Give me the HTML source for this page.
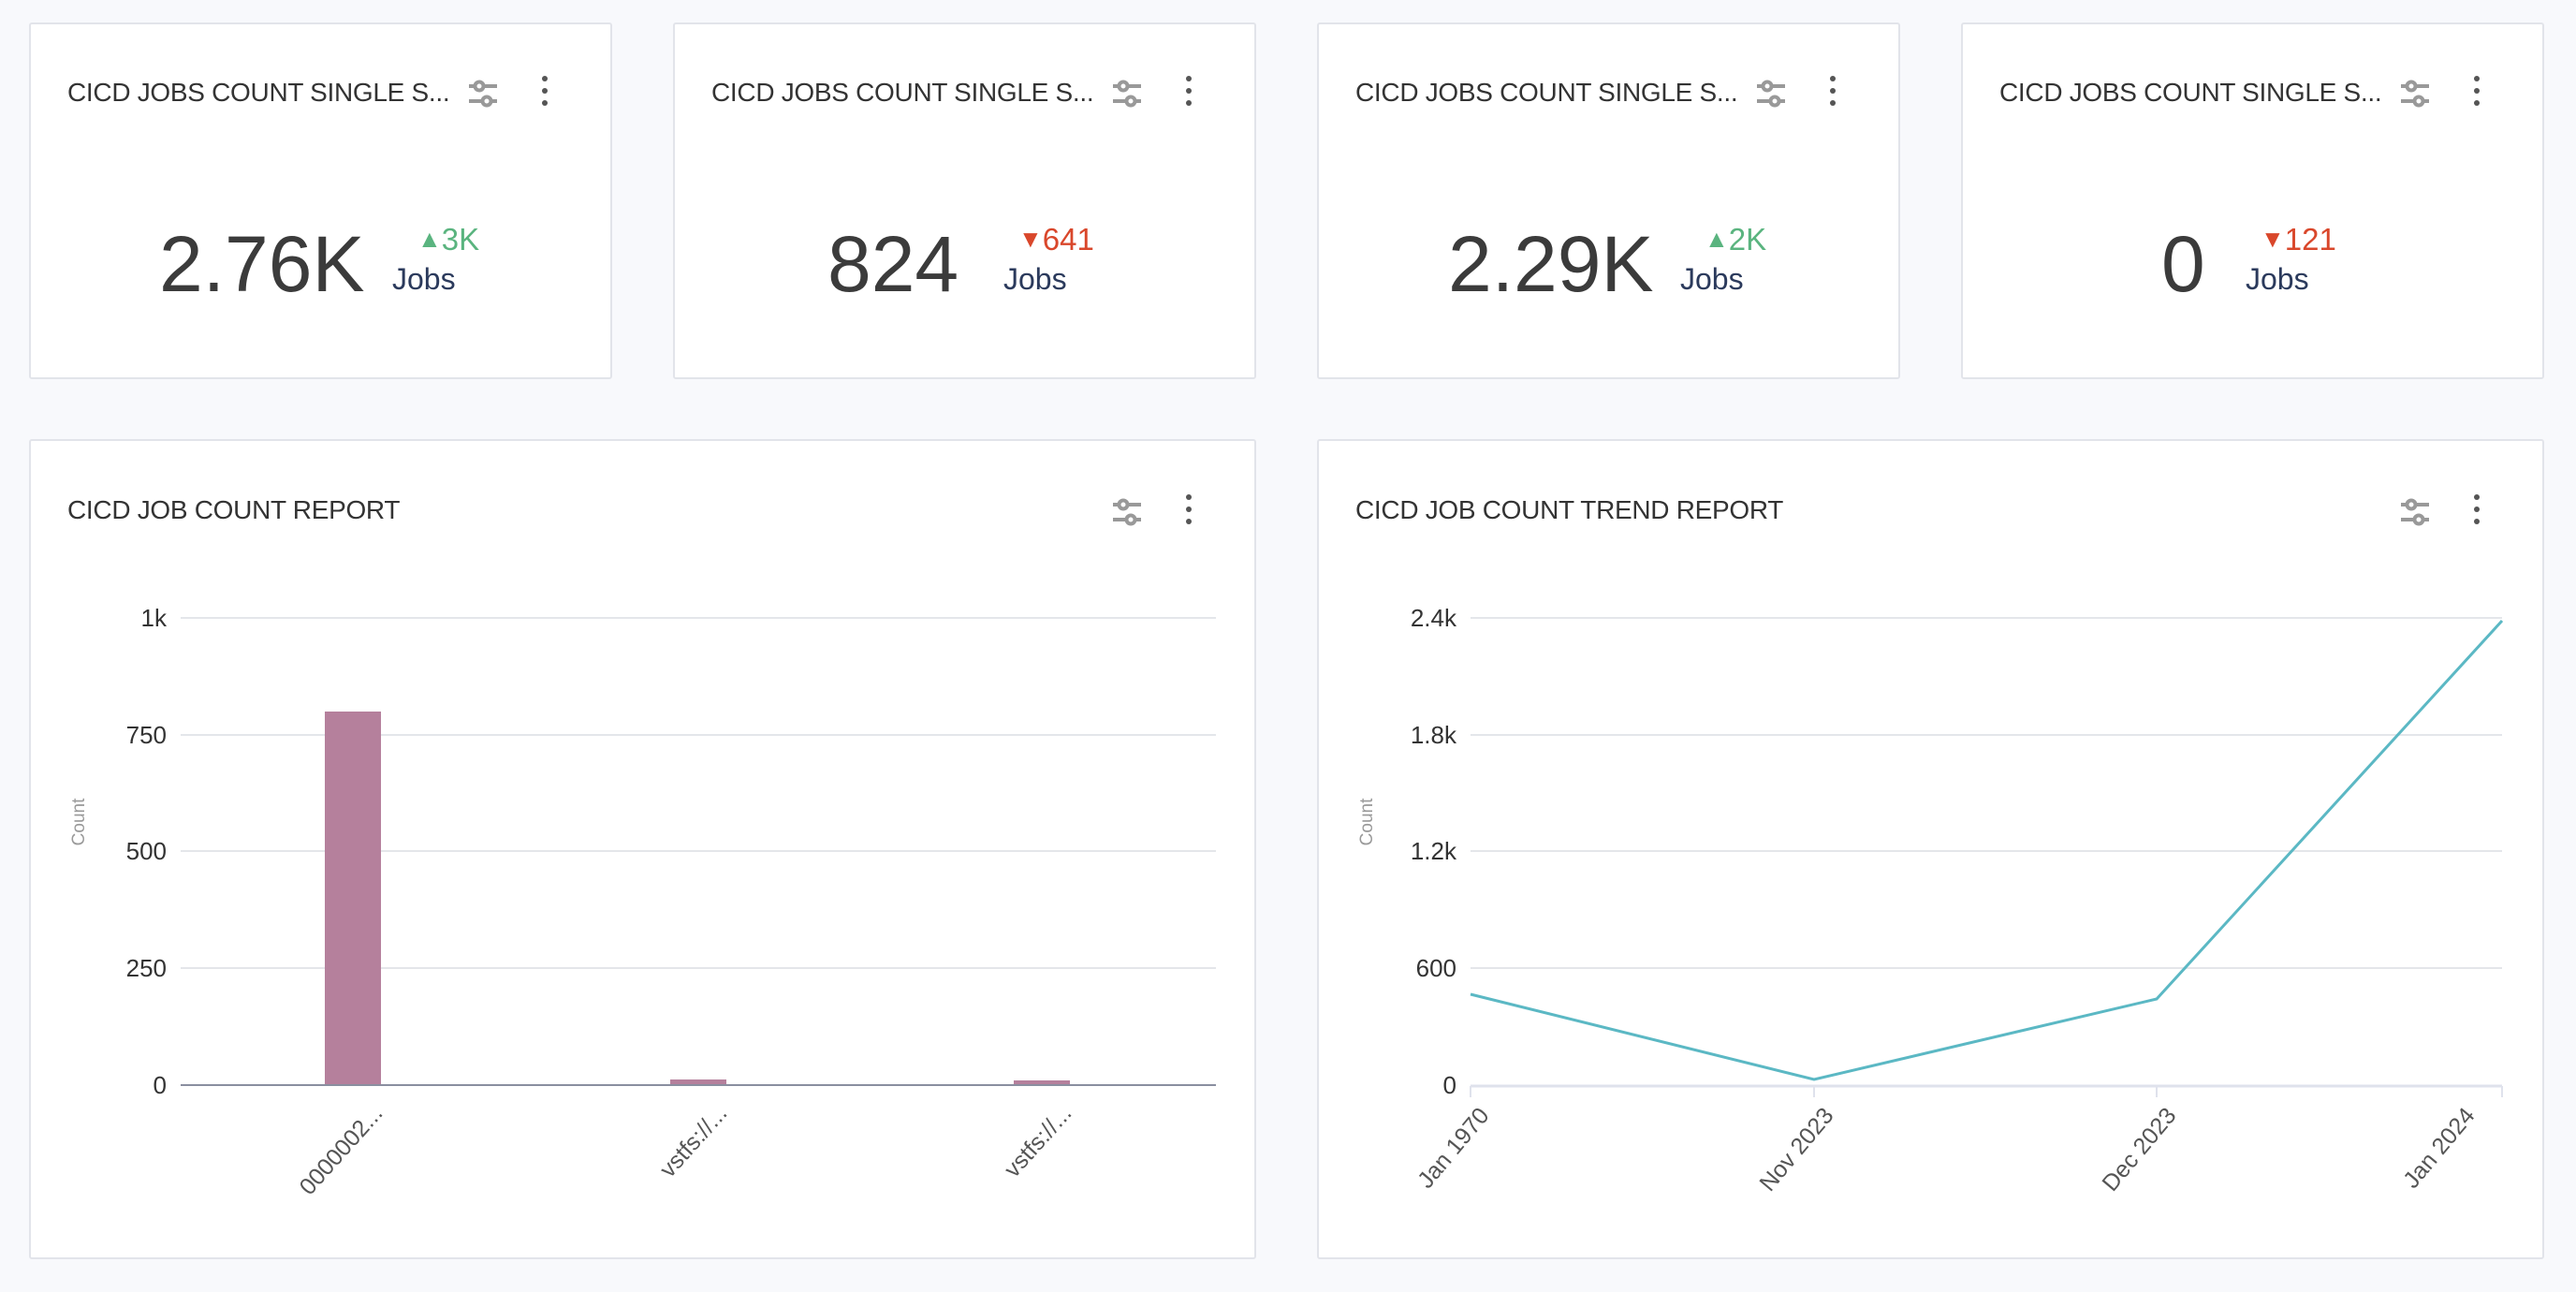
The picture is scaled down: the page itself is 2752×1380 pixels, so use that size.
<!DOCTYPE html>
<html><head><meta charset="utf-8"><style>
body{margin:0;width:2752px;height:1380px;background:#f8f9fc;font-family:"Liberation Sans",sans-serif;position:relative;overflow:hidden}
.card{position:absolute;background:#fff;border:2px solid #e2e4ea;border-radius:3px;box-sizing:border-box}
.t{position:absolute;font-size:28px;color:#333;letter-spacing:-0.3px;white-space:nowrap}
.big{position:absolute;font-size:84px;color:#3b3b3b;line-height:1}
.d{position:absolute;font-size:33px;line-height:1}
.jobs{position:absolute;font-size:32px;color:#2b3a5c;line-height:1}
svg{position:absolute;left:0;top:0}
</style></head><body>
<div class="card" style="left:31px;top:24px;width:623px;height:381px"></div>
<div class="card" style="left:719px;top:24px;width:623px;height:381px"></div>
<div class="card" style="left:1407px;top:24px;width:623px;height:381px"></div>
<div class="card" style="left:2095px;top:24px;width:623px;height:381px"></div>
<div class="card" style="left:31px;top:469px;width:1311px;height:876px"></div>
<div class="card" style="left:1407px;top:469px;width:1311px;height:876px"></div>

<div class="t" style="left:72px;top:83px">CICD JOBS COUNT SINGLE S...</div>
<div class="t" style="left:760px;top:83px">CICD JOBS COUNT SINGLE S...</div>
<div class="t" style="left:1448px;top:83px">CICD JOBS COUNT SINGLE S...</div>
<div class="t" style="left:2136px;top:83px">CICD JOBS COUNT SINGLE S...</div>
<div class="t" style="left:72px;top:529px">CICD JOB COUNT REPORT</div>
<div class="t" style="left:1448px;top:529px">CICD JOB COUNT TREND REPORT</div>

<div class="big" style="left:170px;top:240px">2.76K</div>
<div class="d" style="left:446px;top:239px;color:#5ab47f"><span style="font-size:26px;position:relative;top:-3px">▲</span>3K</div>
<div class="jobs" style="left:419px;top:282px">Jobs</div>

<div class="big" style="left:884px;top:240px">824</div>
<div class="d" style="left:1088px;top:239px;color:#d9472b"><span style="font-size:26px;position:relative;top:-3px">▼</span>641</div>
<div class="jobs" style="left:1072px;top:282px">Jobs</div>

<div class="big" style="left:1547px;top:240px">2.29K</div>
<div class="d" style="left:1821px;top:239px;color:#5ab47f"><span style="font-size:26px;position:relative;top:-3px">▲</span>2K</div>
<div class="jobs" style="left:1795px;top:282px">Jobs</div>

<div class="big" style="left:2309px;top:240px">0</div>
<div class="d" style="left:2415px;top:239px;color:#d9472b"><span style="font-size:26px;position:relative;top:-3px">▼</span>121</div>
<div class="jobs" style="left:2399px;top:282px">Jobs</div>

<svg width="2752" height="1380" xmlns="http://www.w3.org/2000/svg">
<defs>
<g id="flt" stroke="#999" stroke-width="4" fill="#fff">
<line x1="0" y1="0" x2="30" y2="0"/><line x1="0" y1="16" x2="30" y2="16"/>
<circle cx="11" cy="0" r="4.5"/><circle cx="19" cy="16" r="4.5"/></g>
<g id="dots" fill="#555"><circle cx="0" cy="0" r="3"/><circle cx="0" cy="13" r="3"/><circle cx="0" cy="26" r="3"/></g>
</defs>
<use href="#flt" x="501" y="92"/><use href="#dots" x="582" y="84"/>
<use href="#flt" x="1189" y="92"/><use href="#dots" x="1270" y="84"/>
<use href="#flt" x="1877" y="92"/><use href="#dots" x="1958" y="84"/>
<use href="#flt" x="2565" y="92"/><use href="#dots" x="2646" y="84"/>
<use href="#flt" x="1189" y="539"/><use href="#dots" x="1270" y="531"/>
<use href="#flt" x="2565" y="539"/><use href="#dots" x="2646" y="531"/>

<g stroke="#e4e6ea" stroke-width="2">
<line x1="193" y1="660" x2="1299" y2="660"/><line x1="193" y1="785" x2="1299" y2="785"/>
<line x1="193" y1="909" x2="1299" y2="909"/><line x1="193" y1="1034" x2="1299" y2="1034"/>
<line x1="1571" y1="660" x2="2673" y2="660"/><line x1="1571" y1="785" x2="2673" y2="785"/>
<line x1="1571" y1="909" x2="2673" y2="909"/><line x1="1571" y1="1034" x2="2673" y2="1034"/>
</g>
<g font-family="Liberation Sans, sans-serif" font-size="26" fill="#333" text-anchor="end">
<text x="178" y="669">1k</text><text x="178" y="794">750</text><text x="178" y="918">500</text><text x="178" y="1043">250</text><text x="178" y="1168">0</text>
<text x="1556" y="669">2.4k</text><text x="1556" y="794">1.8k</text><text x="1556" y="918">1.2k</text><text x="1556" y="1043">600</text><text x="1556" y="1168">0</text>
</g>
<g font-family="Liberation Sans, sans-serif" font-size="19" fill="#999" text-anchor="middle">
<text transform="translate(90,878) rotate(-90)">Count</text>
<text transform="translate(1466,878) rotate(-90)">Count</text>
</g>
<g fill="#b5809c">
<rect x="347" y="760" width="60" height="399"/>
<rect x="716" y="1153" width="60" height="6"/>
<rect x="1083" y="1154" width="60" height="5"/>
</g>
<line x1="193" y1="1159" x2="1299" y2="1159" stroke="#8a8fa0" stroke-width="2"/>
<line x1="1571" y1="1160" x2="2673" y2="1160" stroke="#dfe2ec" stroke-width="3"/>
<g stroke="#dfe2ec" stroke-width="2"><line x1="1571" y1="1160" x2="1571" y2="1172"/><line x1="1938" y1="1160" x2="1938" y2="1172"/><line x1="2304" y1="1160" x2="2304" y2="1172"/><line x1="2673" y1="1160" x2="2673" y2="1172"/></g>
<polyline points="1571,1062 1938,1153 2304,1067 2673,663" fill="none" stroke="#5bb8c4" stroke-width="3"/>
<g font-family="Liberation Sans, sans-serif" font-size="25" fill="#555" text-anchor="end">
<text transform="translate(410,1190) rotate(-48)">0000002...</text>
<text transform="translate(778,1190) rotate(-48)">vstfs://...</text>
<text transform="translate(1146,1190) rotate(-48)">vstfs://...</text>
<text transform="translate(1592,1192) rotate(-50)">Jan 1970</text>
<text transform="translate(1960,1192) rotate(-50)">Nov 2023</text>
<text transform="translate(2326,1192) rotate(-50)">Dec 2023</text>
<text transform="translate(2645,1192) rotate(-50)">Jan 2024</text>
</g>
</svg>
</body></html>
